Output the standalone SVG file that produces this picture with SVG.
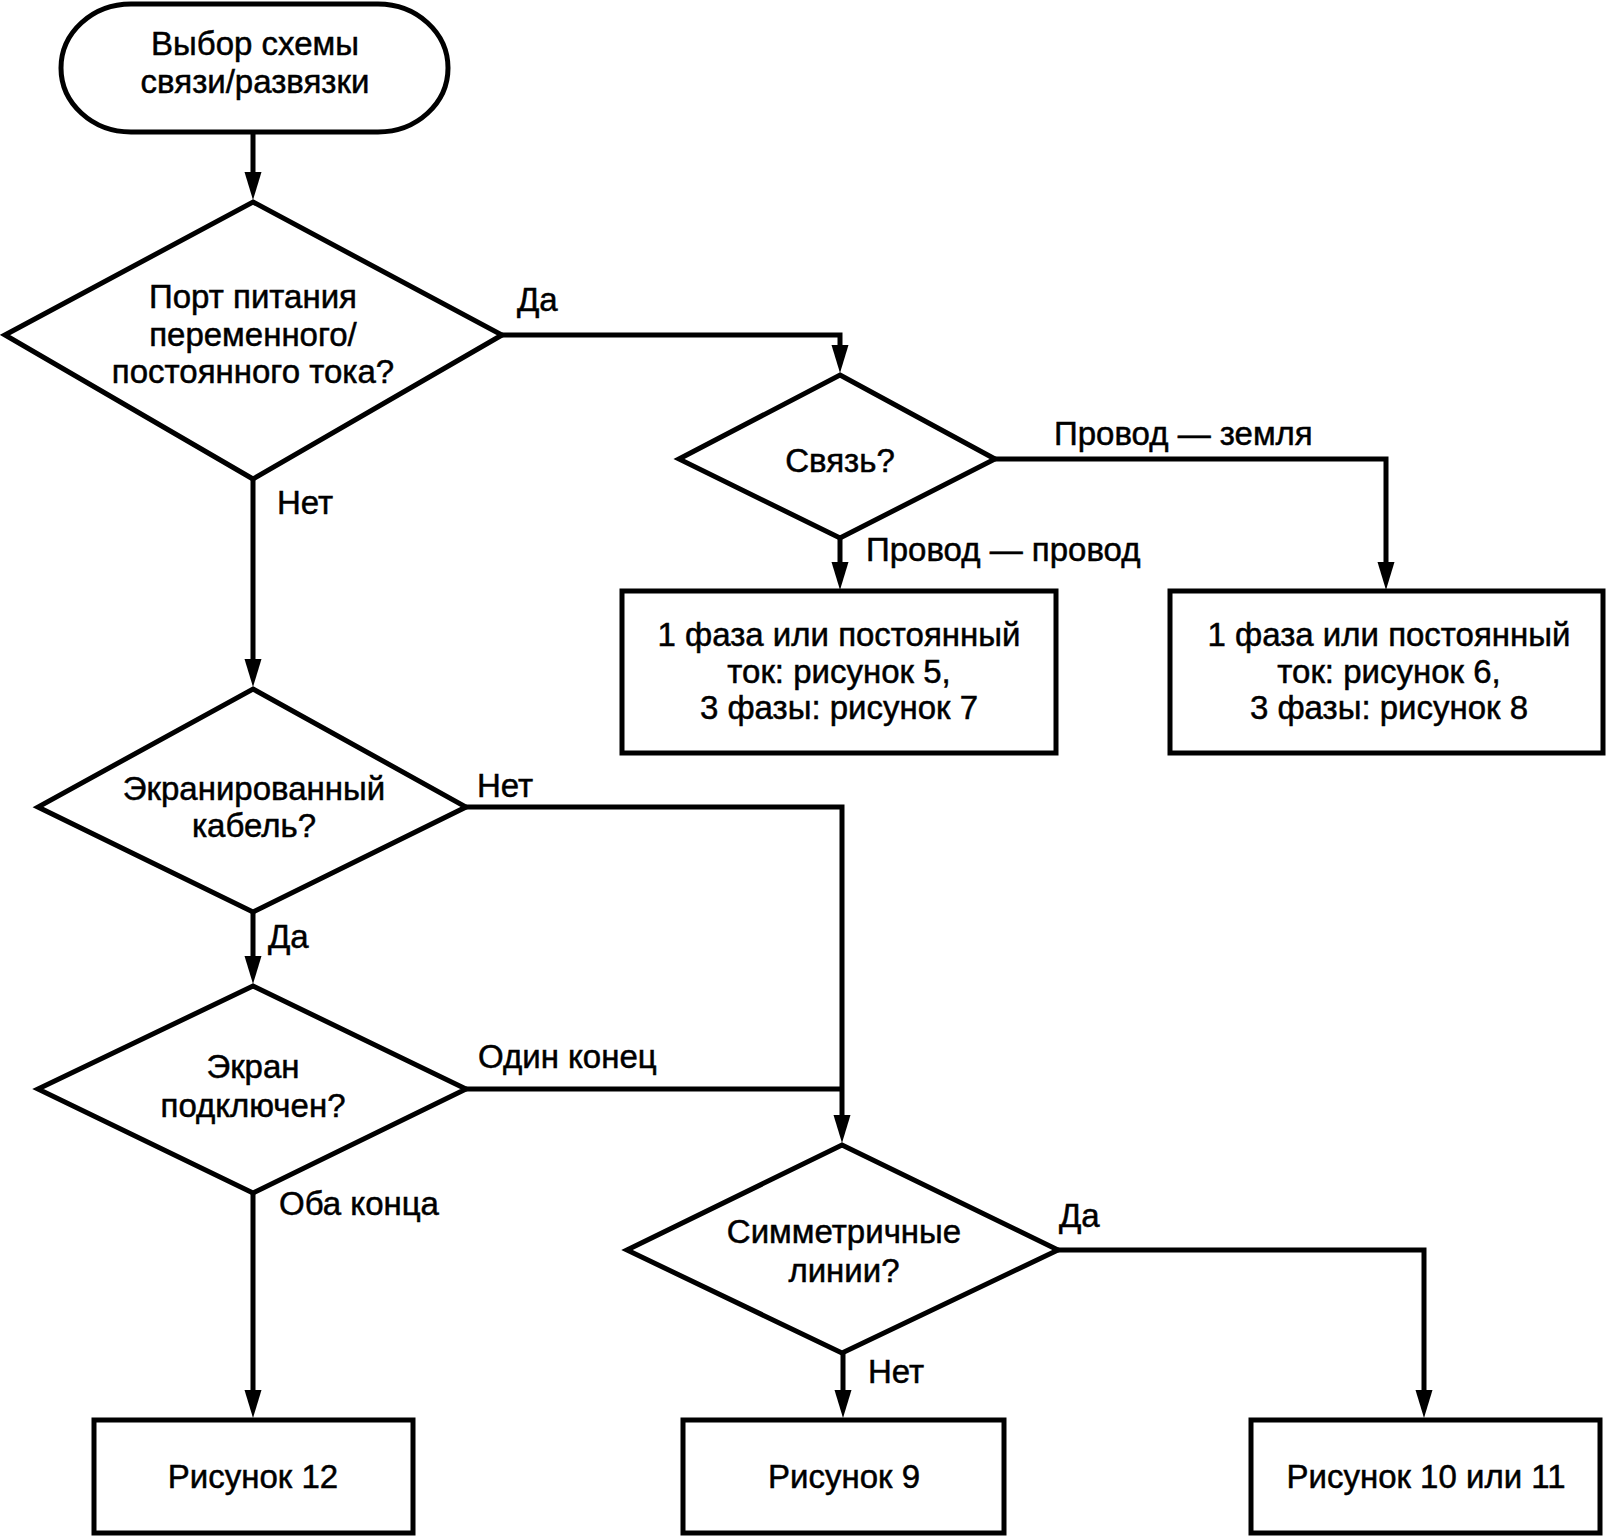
<svg xmlns="http://www.w3.org/2000/svg" width="1606" height="1536" viewBox="0 0 1606 1536">
<style>
.s{fill:#fff;stroke:#000;stroke-width:5;stroke-linejoin:miter}
.c{fill:none;stroke:#000;stroke-width:5;stroke-linejoin:miter}
text{font-family:"Liberation Sans",Arial,sans-serif;font-size:33px;fill:#000;stroke:#000;stroke-width:0.5}
.m{text-anchor:middle}
</style>
<defs>
<marker id="a" markerUnits="userSpaceOnUse" markerWidth="30" markerHeight="18" refX="18" refY="8.5" orient="auto">
<path d="M0,0 L28,8.5 L0,17 Z" fill="#000"/>
</marker>
</defs>
<rect width="1606" height="1536" fill="#fff"/>
<g id="connectors">
<path class="c" d="M253,133 V190" marker-end="url(#a)"/>
<path class="c" d="M502,335 H840 V363" marker-end="url(#a)"/>
<path class="c" d="M995,459 H1386 V580" marker-end="url(#a)"/>
<path class="c" d="M840,538 V580" marker-end="url(#a)"/>
<path class="c" d="M253,479 V677" marker-end="url(#a)"/>
<path class="c" d="M466,807 H842 V1133" marker-end="url(#a)"/>
<path class="c" d="M466,1089 H842"/>
<path class="c" d="M253,912 V974" marker-end="url(#a)"/>
<path class="c" d="M253,1193 V1408" marker-end="url(#a)"/>
<path class="c" d="M1058,1250 H1424 V1408" marker-end="url(#a)"/>
<path class="c" d="M843,1353 V1408" marker-end="url(#a)"/>
<text x="517" y="311">Да</text>
<text x="277" y="514">Нет</text>
<text x="1054" y="445">Провод — земля</text>
<text x="866" y="561">Провод — провод</text>
<text x="477" y="797">Нет</text>
<text x="268" y="948">Да</text>
<text x="478" y="1068">Один конец</text>
<text x="279" y="1215">Оба конца</text>
<text x="1059" y="1227">Да</text>
<text x="868" y="1383">Нет</text>
</g>
<g id="start">
<rect class="s" x="61" y="4" width="387" height="128" rx="70" ry="64"/>
<text class="m" x="255" y="55">Выбор схемы</text>
<text class="m" x="255" y="93">связи/развязки</text>
</g>
<g id="d1">
<polygon class="s" points="253,202 502,335 253,479 5,335"/>
<text class="m" x="253" y="308">Порт питания</text>
<text class="m" x="253" y="346">переменного/</text>
<text class="m" x="253" y="383">постоянного тока?</text>
</g>
<g id="d2">
<polygon class="s" points="840,375 995,459 840,538 679,459"/>
<text class="m" x="840" y="472">Связь?</text>
</g>
<g id="boxL">
<rect class="s" x="622" y="591" width="434" height="162"/>
<text class="m" x="839" y="646">1 фаза или постоянный</text>
<text class="m" x="839" y="683">ток: рисунок 5,</text>
<text class="m" x="839" y="719">3 фазы: рисунок 7</text>
</g>
<g id="boxR">
<rect class="s" x="1170" y="591" width="433" height="162"/>
<text class="m" x="1389" y="646">1 фаза или постоянный</text>
<text class="m" x="1389" y="683">ток: рисунок 6,</text>
<text class="m" x="1389" y="719">3 фазы: рисунок 8</text>
</g>
<g id="d3">
<polygon class="s" points="253,689 466,807 253,912 38,807"/>
<text class="m" x="254" y="800">Экранированный</text>
<text class="m" x="254" y="837">кабель?</text>
</g>
<g id="d4">
<polygon class="s" points="253,986 466,1089 253,1193 38,1089"/>
<text class="m" x="253" y="1078">Экран</text>
<text class="m" x="253" y="1117">подключен?</text>
</g>
<g id="d5">
<polygon class="s" points="842,1145 1058,1250 842,1353 627,1250"/>
<text class="m" x="844" y="1243">Симметричные</text>
<text class="m" x="844" y="1282">линии?</text>
</g>
<g id="box12">
<rect class="s" x="94" y="1420" width="319" height="113"/>
<text class="m" x="253" y="1488">Рисунок 12</text>
</g>
<g id="box9">
<rect class="s" x="683" y="1420" width="321" height="113"/>
<text class="m" x="844" y="1488">Рисунок 9</text>
</g>
<g id="box1011">
<rect class="s" x="1251" y="1420" width="349" height="113"/>
<text class="m" x="1426" y="1488">Рисунок 10 или 11</text>
</g>
</svg>
